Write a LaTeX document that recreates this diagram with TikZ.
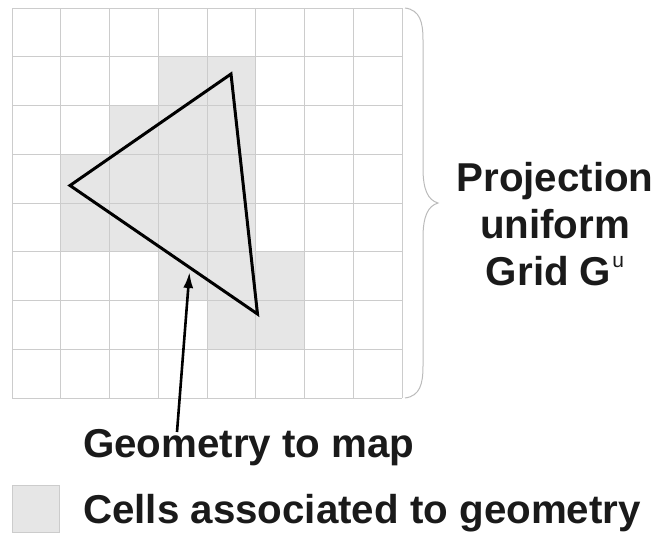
\documentclass[tikz,border=0pt]{standalone}
\usepackage{fontspec}
\setmainfont{Liberation Sans}
\usetikzlibrary{arrows.meta}
\definecolor{cellgray}{HTML}{E6E6E6}
\definecolor{gridgray}{HTML}{CCCCCC}
\definecolor{bracegray}{HTML}{BBBBBB}
\definecolor{txt}{HTML}{1A1A1A}
\tikzset{
  cell/.style={fill=cellgray,draw=none},
  gridline/.style={draw=gridgray,line width=1pt},
  geom/.style={draw=black,line width=3pt,line join=miter},
  pointer/.style={draw=black,line width=2.6pt,-{Latex[length=16pt,width=10pt]}},
  bracestyle/.style={draw=bracegray,line width=1pt},
  lbl/.style={font=\fontsize{40.3}{46}\selectfont\bfseries,text=txt,inner sep=0pt},
}
\begin{document}
\begin{tikzpicture}[x=1pt,y=-1pt]
\useasboundingbox (0,0) rectangle (654,536);
% shaded cells (col,row) with cell 48.75, origin (12,8)
\foreach \c/\r in {3/1,4/1, 2/2,3/2,4/2, 1/3,2/3,3/3,4/3, 1/4,2/4,3/4,4/4, 3/5,4/5,5/5, 4/6,5/6}{
  \fill[cell] ({12+48.75*\c},{8+48.75*\r}) rectangle ++(48.75,48.75);
}
% grid
\foreach \i in {0,...,8}{
  \draw[gridline] ({12+48.75*\i},8) -- ({12+48.75*\i},398);
  \draw[gridline] (12,{8+48.75*\i}) -- (402,{8+48.75*\i});
}
% triangle
\coordinate (top) at (231,74);
\coordinate (left) at (70,185.5);
\coordinate (bot) at (257.5,314);
\draw[geom] (top) -- (left) -- (bot) -- cycle;
% brace
\coordinate (bt) at (405,8);
\coordinate (bb) at (405,398);
\coordinate (tip) at (438,203);
\draw[bracestyle] (bt) .. controls (420,10) and (423,22) .. (423,40)
  -- (423,168) .. controls (423,190) and (428,200) .. (tip)
  .. controls (428,206) and (423,216) .. (423,238)
  -- (423,366) .. controls (423,384) and (420,396) .. (bb);
% labels
\node[lbl,anchor=base] (proj1) at (555,191.5) {Projection};
\node[lbl,anchor=base] (proj2) at (555,238.3) {uniform};
\node[lbl,anchor=base] (proj3) at (555,285) {Grid G\kern1pt\raisebox{18pt}{\fontsize{21}{21}\selectfont\mdseries u}};
\node[lbl,anchor=base west] (geo) at (83,457.5) {Geometry to map};
\node[cell,draw=gridgray,line width=0.8pt,minimum size=47pt,inner sep=0pt] (leg) at (36,509) {};
\node[lbl,anchor=base west] (cells) at (83,523) {Cells associated to geometry};
% pointer
\coordinate (pstart) at (177,432);
\coordinate (ptip) at (189.5,272);
\draw[pointer] (pstart) -- (ptip);
\end{tikzpicture}
\end{document}
